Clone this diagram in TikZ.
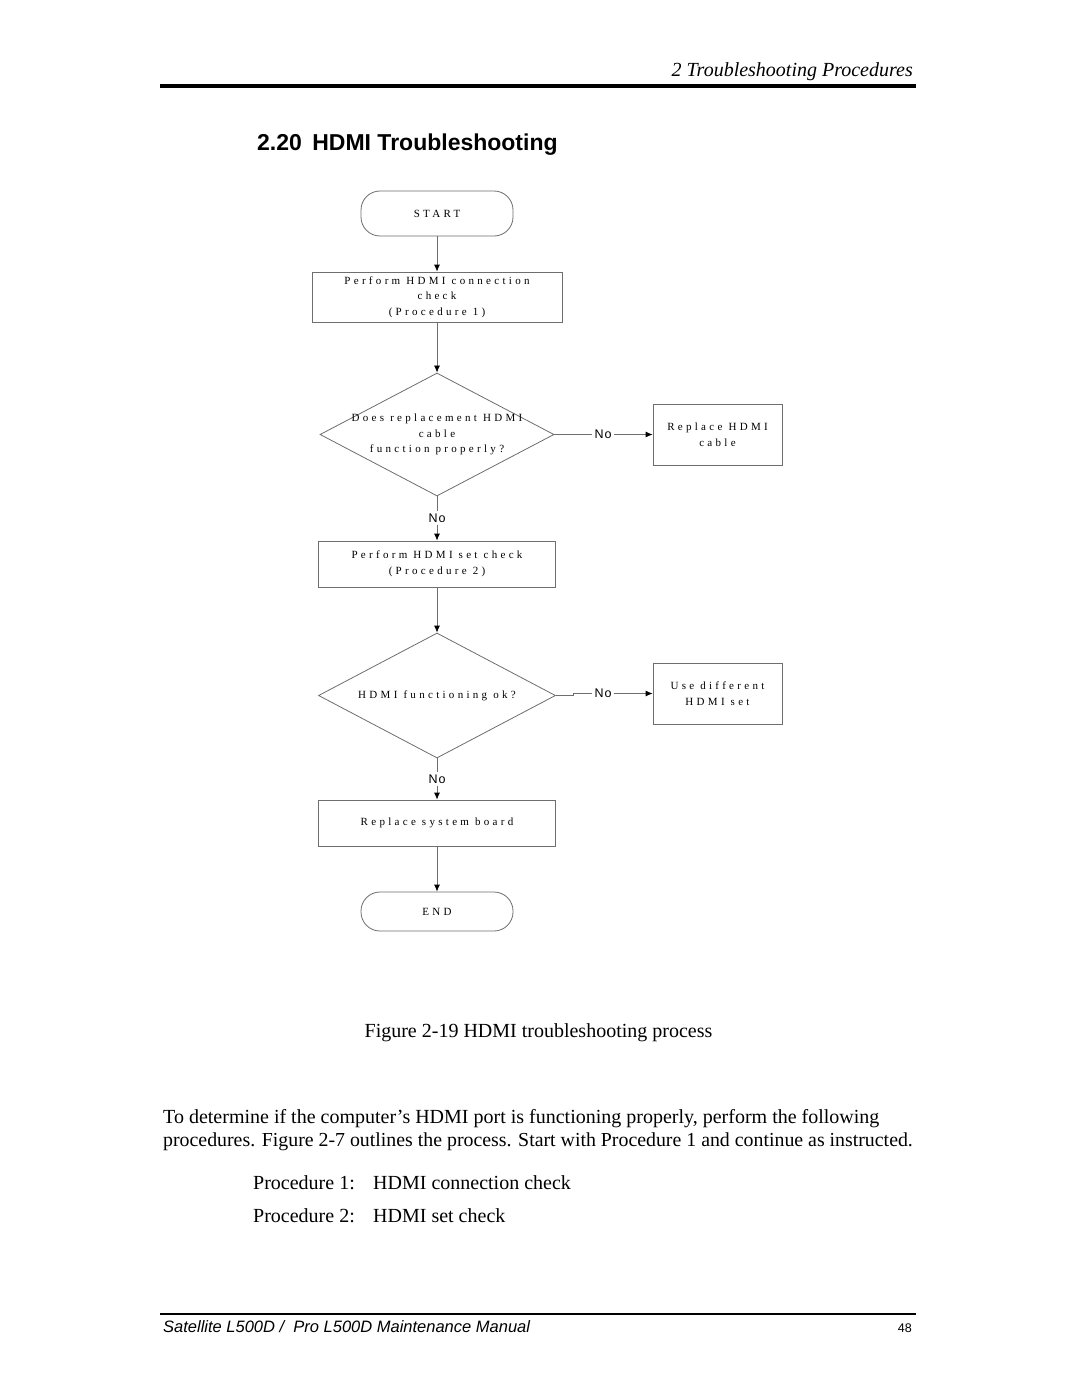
\documentclass[tikz,border=0pt]{standalone}
\usepackage{fontspec}
\setmainfont{Liberation Serif}
\setsansfont{Liberation Sans}
\newfontfamily\flowfont[LetterSpace=30]{Liberation Serif}
\newfontfamily\nofont[LetterSpace=8]{Liberation Sans}
\usetikzlibrary{positioning,shapes.geometric,arrows.meta}
\definecolor{flowgray}{RGB}{110,110,110}

\begin{document}
\begin{tikzpicture}[x=1pt,y=-1pt,
  line/.style={draw=flowgray,line width=0.8pt},
  arr/.style={draw=flowgray,line width=0.8pt,-{Latex[length=7pt,width=6pt,color=black]}},
  proc/.style={rectangle,draw=flowgray,line width=0.8pt,inner sep=0pt,align=center,font=\flowfont\fontsize{11}{15.5}\selectfont},
  term/.style={rectangle,rounded corners=19pt,draw=flowgray,line width=0.8pt,inner sep=0pt,font=\flowfont\fontsize{11}{15.5}\selectfont},
  dec/.style={diamond,draw=flowgray,line width=0.8pt,inner sep=0pt},
  lbl/.style={align=center,inner sep=0pt,font=\flowfont\fontsize{11}{15.5}\selectfont},
  ans/.style={inner sep=2pt,font=\nofont\fontsize{12.5}{14}\selectfont}]
  \fill[white] (0,0) rectangle (1080,1397);
  \useasboundingbox (0,0) rectangle (1080,1397);

  % page head
  \node[anchor=base east,inner sep=0pt,font=\itshape\fontsize{20}{22}\selectfont] (head) at (913,77) {2 Troubleshooting Procedures};
  \draw[line width=3.5pt] (160,86) -- (916,86);
  \node[anchor=base west,inner sep=0pt,font=\sffamily\bfseries\fontsize{23}{26}\selectfont] (title) at (257,150) {2.20\hspace{0.45em}HDMI Troubleshooting};

  % flow chart
  \node[term,minimum width=152,minimum height=45] (start) at (437,213.5) {START};
  \node[proc,minimum width=250,minimum height=50] (conn) at (437,297) {Perform HDMI connection\\check\\(Procedure 1)};
  \node[dec,minimum width=234,minimum height=123] (cable) at (437,434.5) {};
  \node[lbl] (cabletxt) at (cable.center) {Does replacement HDMI\\cable\\function properly?};
  \node[ans] (no1) at (603,434.5) {No};
  \node[proc,minimum width=129,minimum height=61] (repcable) at (717.5,434.5) {Replace HDMI\\cable};
  \node[ans] (no2) at (437,518) {No};
  \node[proc,minimum width=237,minimum height=46] (setchk) at (437,564) {Perform HDMI set check\\(Procedure 2)};
  \node[dec,minimum width=237,minimum height=125] (hdmiok) at (437,695.5) {};
  \node[lbl] (hdmioktxt) at (hdmiok.center) {HDMI functioning ok?};
  \node[ans] (no3) at (603,693.5) {No};
  \node[proc,minimum width=129,minimum height=61] (diffset) at (717.5,693.5) {Use different\\HDMI set};
  \node[ans] (no4) at (437,779) {No};
  \node[proc,minimum width=237,minimum height=46] (board) at (437,823) {Replace system board};
  \node[term,minimum width=152,minimum height=39] (end) at (437,911.5) {END};

  \draw[arr] (start) -- (conn);
  \draw[arr] (conn) -- (cable);
  \draw[line] (cable.east) -- (no1.west);
  \draw[arr] (no1.east) -- (repcable.west);
  \draw[line] (cable.south) -- (no2.north);
  \draw[arr] (no2.south) -- (setchk.north);
  \draw[arr] (setchk) -- (hdmiok);
  \draw[line] (hdmiok.east) -- ++(17,0) |- (no3.west);
  \draw[arr] (no3.east) -- (diffset.west);
  \draw[line] (hdmiok.south) -- (no4.north);
  \draw[arr] (no4.south) -- (board.north);
  \draw[arr] (board) -- (end);

  % text below
  \node[anchor=base,inner sep=0pt,font=\fontsize{20}{23}\selectfont] (caption) at (538.5,1037) {Figure 2-19 HDMI troubleshooting process};
  \node[anchor=base west,inner sep=0pt,font=\fontsize{20}{23}\selectfont] (para1) at (163,1123) {To determine if the computer’s HDMI port is functioning properly, perform the following};
  \node[anchor=base west,inner sep=0pt,font=\fontsize{19.85}{23}\selectfont] (para2) at (163,1146) {procedures. Figure 2-7 outlines the process. Start with Procedure 1 and continue as instructed.};
  \node[anchor=base west,inner sep=0pt,font=\fontsize{20}{23}\selectfont] (proc1) at (253,1189) {Procedure 1:};
  \node[anchor=base west,inner sep=0pt,font=\fontsize{20}{23}\selectfont] (proc1txt) at (373,1189) {HDMI connection check};
  \node[anchor=base west,inner sep=0pt,font=\fontsize{20}{23}\selectfont] (proc2) at (253,1222) {Procedure 2:};
  \node[anchor=base west,inner sep=0pt,font=\fontsize{20}{23}\selectfont] (proc2txt) at (373,1222) {HDMI set check};

  % page foot
  \draw[line width=2.5pt] (160,1314) -- (916,1314);
  \node[anchor=base west,inner sep=0pt,font=\sffamily\itshape\fontsize{16.5}{18}\selectfont] (foot) at (163,1332) {Satellite L500D /\ \ Pro L500D Maintenance Manual};
  \node[anchor=base east,inner sep=0pt,font=\sffamily\fontsize{12.5}{15}\selectfont] (page) at (912,1332) {48};
\end{tikzpicture}
\end{document}
